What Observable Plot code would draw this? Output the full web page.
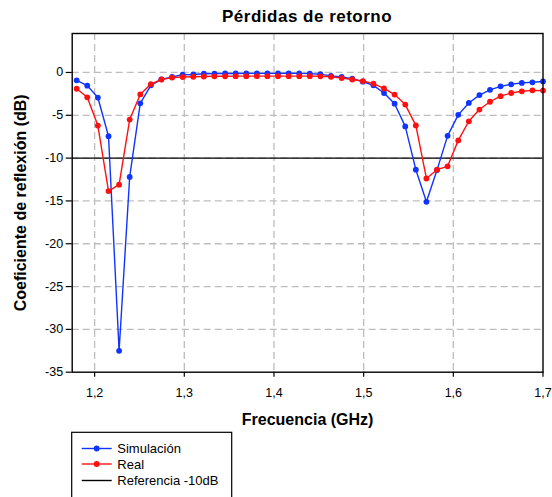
<!DOCTYPE html>
<html>
<head>
<meta charset="utf-8">
<script src="https://cdn.jsdelivr.net/npm/d3@7"></script>
<script src="https://cdn.jsdelivr.net/npm/@observablehq/plot@0.6"></script>
<style>
  body { margin: 0; background: #fff; font-family: "Liberation Sans", Arial, sans-serif; }
  #wrap { position: relative; width: 552px; height: 497px; overflow: hidden; background: #fff; }
  #title { position: absolute; left: 71.7px; top: 8.3px; width: 470.8px; text-align: center;
           font-size: 17px; line-height: 17px; font-weight: bold; letter-spacing: 0.5px; color: #000; }
  #chart { position: absolute; left: 0; top: 28px; }
  #legend { position: absolute; left: 0; top: 428px; }
</style>
</head>
<body>
<div id="wrap">
  <div id="title">Pérdidas de retorno</div>
  <div id="chart"></div>
  <div id="legend"></div>
</div>
<script>
// Frecuencia (GHz)
const freq = [1.1800, 1.1918, 1.2036, 1.2155, 1.2273, 1.2391, 1.2509, 1.2627, 1.2745, 1.2864,
              1.2982, 1.3100, 1.3218, 1.3336, 1.3455, 1.3573, 1.3691, 1.3809, 1.3927, 1.4045,
              1.4164, 1.4282, 1.4400, 1.4518, 1.4636, 1.4755, 1.4873, 1.4991, 1.5109, 1.5227,
              1.5345, 1.5464, 1.5582, 1.5700, 1.5818, 1.5936, 1.6055, 1.6173, 1.6291, 1.6409,
              1.6527, 1.6645, 1.6764, 1.6882, 1.7000];
// Simulación (dB)
const simulacion = [-0.92, -1.54, -2.93, -7.45, -32.5, -12.2, -3.6, -1.5, -0.8, -0.52,
                    -0.26, -0.24, -0.15, -0.13, -0.12, -0.12, -0.11, -0.11, -0.11, -0.11,
                    -0.1, -0.11, -0.14, -0.2, -0.4, -0.51, -0.72, -1.08, -1.5, -2.4,
                    -3.65, -6.3, -11.35, -15.1, -11.4, -7.4, -4.95, -3.56, -2.64, -2.03,
                    -1.62, -1.38, -1.22, -1.15, -1.05];
// Real (dB)
const real = [-1.9, -2.9, -6.2, -13.85, -13.1, -5.5, -2.57, -1.35, -0.82, -0.6,
              -0.53, -0.5, -0.47, -0.45, -0.44, -0.43, -0.43, -0.43, -0.43, -0.43,
              -0.43, -0.43, -0.43, -0.45, -0.51, -0.65, -0.82, -1.0, -1.31, -1.86,
              -2.58, -3.75, -6.18, -12.38, -11.35, -10.96, -7.93, -5.7, -4.33, -3.42,
              -2.77, -2.4, -2.2, -2.09, -2.12];
const referencia = [-10];
const xTicks = [1.2, 1.3, 1.4, 1.5, 1.6, 1.7];
const yTicks = [-35, -30, -25, -20, -15, -10, -5, 0];
const seriesNames = ["Simulación", "Real", "Referencia -10dB"];
const seriesColors = ["#1034ff", "#ff1010", "#000000"];

const simData = freq.map((f, i) => ({f, v: simulacion[i]}));
const realData = freq.map((f, i) => ({f, v: real[i]}));

const fmt = d => d.toFixed(1).replace(".", ",");

const chart = Plot.plot({
  width: 552,
  height: 400,
  marginTop: 5,
  marginLeft: 71.7,
  marginRight: 9.5,
  marginBottom: 56.3,
  style: {fontFamily: "'Liberation Sans', Arial, sans-serif", fontSize: "13px", color: "#000", background: "#fff"},
  x: {domain: [1.175, 1.7], ticks: xTicks},
  y: {domain: [-35, 4.55], ticks: yTicks},
  marks: [
    Plot.gridX(xTicks.filter(d => d < 1.7), {stroke: "#bdbdbd", strokeOpacity: 1, strokeWidth: 1.3, strokeDasharray: "7,4"}),
    Plot.gridY(yTicks.filter(d => d > -35), {stroke: "#bdbdbd", strokeOpacity: 1, strokeWidth: 1.3, strokeDasharray: "7,4"}),
    Plot.axisX(xTicks, {tickSize: 5, tickPadding: 11, tickFormat: fmt, label: null, fontSize: 12.5, strokeWidth: 1.2}),
    Plot.axisY(yTicks, {tickSize: 6, tickPadding: 3, tickFormat: d => String(d), label: null, fontSize: 12.5, strokeWidth: 1.2}),
    Plot.ruleY(referencia, {stroke: seriesColors[2], strokeWidth: 1.3}),
    Plot.line(simData, {x: "f", y: "v", stroke: seriesColors[0], strokeWidth: 1.4}),
    Plot.dot(simData, {x: "f", y: "v", fill: seriesColors[0], r: 2.9, symbol: "circle"}),
    Plot.line(realData, {x: "f", y: "v", stroke: seriesColors[1], strokeWidth: 1.4}),
    Plot.dot(realData, {x: "f", y: "v", fill: seriesColors[1], r: 2.9, symbol: "circle"}),
    Plot.frame({stroke: "#000", strokeWidth: 1.4}),
    Plot.text(["Frecuencia (GHz)"], {frameAnchor: "bottom", dy: 47.3, lineAnchor: "middle", fontSize: 16, fontWeight: "bold", fill: "#000"}),
    Plot.text(["Coeficiente de reflexión (dB)"], {frameAnchor: "left", dx: -51.7, rotate: -90, lineAnchor: "middle", textAnchor: "middle", fontSize: 16, fontWeight: "bold", fill: "#000"})
  ]
});
document.getElementById("chart").appendChild(chart);

// Legend
const lg = d3.select("#legend").append("svg").attr("width", 552).attr("height", 69);
lg.append("rect").attr("x", 71.7).attr("y", 4.3).attr("width", 160).attr("height", 90)
  .attr("fill", "#fff").attr("stroke", "#000").attr("stroke-width", 1.2);
const rowsY = [20.5, 36, 52.5];
seriesNames.forEach((name, i) => {
  const y = rowsY[i];
  lg.append("line").attr("x1", 81.7).attr("x2", 111.7).attr("y1", y).attr("y2", y)
    .attr("stroke", seriesColors[i]).attr("stroke-width", 1.4);
  if (i < 2) lg.append("circle").attr("cx", 96.7).attr("cy", y).attr("r", 2.9).attr("fill", seriesColors[i]);
  lg.append("text").attr("x", 117.3).attr("y", y).attr("dy", "0.35em")
    .attr("font-size", 13).attr("font-family", "'Liberation Sans', Arial, sans-serif").attr("fill", "#000").text(name);
});
</script>
</body>
</html>
